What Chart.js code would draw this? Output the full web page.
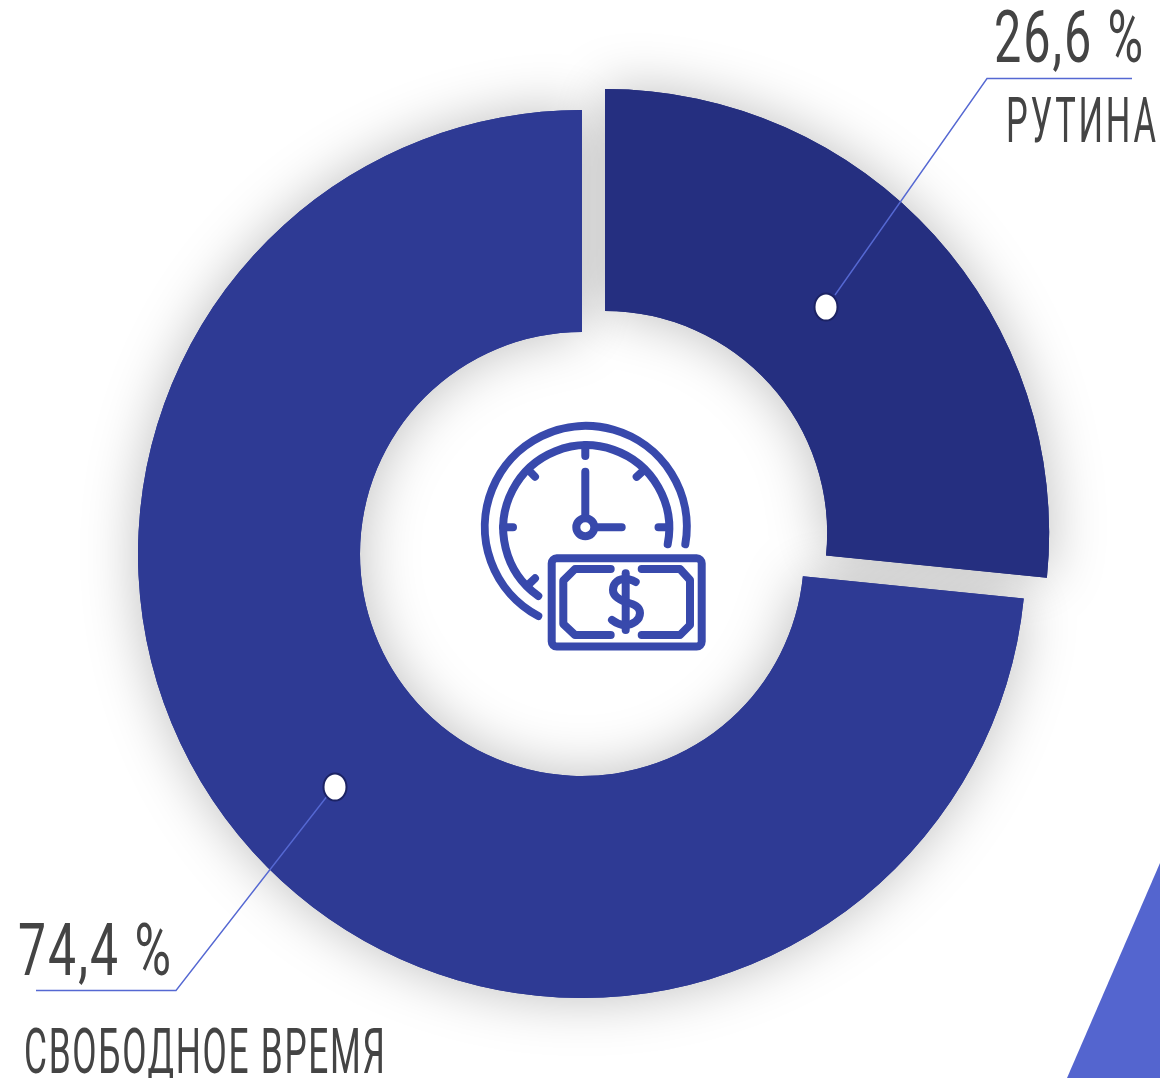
<!DOCTYPE html>
<html lang="ru">
<head>
    <meta charset="utf-8" />
    <title>Рутина и свободное время</title>
    <script src="https://cdn.jsdelivr.net/npm/chart.js"></script>
    <style>
        html, body { margin: 0; padding: 0; background: #fff; overflow: hidden; }
        #wrap { position: relative; width: 1160px; height: 1078px; }
        #donut { display: block; }
        #icon { position: absolute; left: 470px; top: 415px; width: 245px; height: 245px; }
    </style>
</head>
<body>
    <div id="wrap">
        <canvas id="donut" width="1160" height="1078"></canvas>
        <svg id="icon" viewBox="0 0 245 245" fill="none" stroke="#3849ac" stroke-width="8" stroke-linecap="round" stroke-linejoin="round">
            <path d="M215.3 129.3A101 101 0 1 0 68.3 201" />
            <path d="M197.7 129.3A83 83 0 1 0 68.3 181" />
            <path d="M115.3 30V41M33 112.3H43M188.5 112.3H199M166.7 61.7L173 56M65 61.7L58.5 55M65 163.3L58 170" />
            <path d="M115.3 56.7V100M128 112.3H151.7" />
            <circle cx="115.3" cy="112.3" r="9" />
            <rect x="81.7" y="143.3" width="150" height="88.3" rx="5" />
            <path d="M140.7 154H105L93.3 165.7V209L105 220H140.7" />
            <path d="M171.7 154H210L220 165V210L210 220H171.7" />
            <path d="M155.7 158.3V215" />
            <path d="M165.7 167C160 164 155 163.5 153 164C146 165 143 170 143 175C143 182 150 185 156 187C165 189.5 170 192 170 198C170 205 163 210 155 210C150 210 146 208 142 205" />
        </svg>
    </div>
    <script>
        const categories = ['РУТИНА', 'СВОБОДНОЕ ВРЕМЯ'];
        const percentLabels = ['26,6 %', '74,4 %'];
        // printed label says 74,4 but the drawn slice measures 73,4
        const sliceValues = [26.6, 73.4];
        const sliceColors = ['#252f80', '#2e3a94'];
        // Chart.js moves an arc by a quarter of its offset, so 124 is a 31px shift
        const sliceOffsets = [124, 0];

        // where the callouts sit on the page
        const callouts = [
            {
                dot: [826, 307], line: [[835, 295], [987, 78.5], [1132, 78.5]],
                pct: { x: 994, y: 62, w: 149, size: 73, gap: 3 },
                name: { x: 1006, y: 142, w: 150, size: 63, gap: 5 }
            },
            {
                dot: [335, 787], line: [[328, 795], [176, 990.5], [36, 990.5]],
                pct: { x: 18, y: 975, w: 153, size: 73, gap: 3 },
                name: { x: 24, y: 1073, w: 361, size: 63, gap: 3 }
            }
        ];

        function fitText(ctx, text, t) {
            ctx.save();
            ctx.font = '400 ' + t.size + 'px Roboto';
            ctx.letterSpacing = t.gap + 'px';
            ctx.fillStyle = '#444444';
            ctx.textBaseline = 'alphabetic';
            ctx.translate(t.x, t.y);
            ctx.scale(t.w / (ctx.measureText(text).width - t.gap), 1);
            ctx.fillText(text, 0, 0);
            ctx.restore();
        }

        // soft shadow under the ring, drawn first so it never darkens a slice
        const ringShadow = {
            id: 'ringShadow',
            beforeDatasetsDraw(chart) {
                const ctx = chart.ctx;
                ctx.save();
                ctx.fillStyle = '#5465cf';
                ctx.beginPath();
                ctx.moveTo(1160, 863);
                ctx.lineTo(1160, 1078);
                ctx.lineTo(1067, 1078);
                ctx.closePath();
                ctx.fill();
                ctx.shadowColor = 'rgba(0, 0, 0, 0.26)';
                ctx.shadowBlur = 56;
                chart.getDatasetMeta(0).data.forEach(arc => arc.draw(ctx));
                ctx.restore();
            }
        };

        const calloutLayer = {
            id: 'calloutLayer',
            afterDatasetsDraw(chart) {
                const ctx = chart.ctx;
                callouts.forEach((c, i) => {
                    ctx.save();
                    ctx.strokeStyle = '#5568d2';
                    ctx.lineWidth = 1.4;
                    ctx.beginPath();
                    c.line.forEach((p, j) => j ? ctx.lineTo(p[0], p[1]) : ctx.moveTo(p[0], p[1]));
                    ctx.stroke();
                    ctx.fillStyle = '#fff';
                    ctx.strokeStyle = '#1c2364';
                    ctx.lineWidth = 2;
                    ctx.beginPath();
                    ctx.ellipse(c.dot[0], c.dot[1], 11.5, 13.5, 0, 0, Math.PI * 2);
                    ctx.fill();
                    ctx.stroke();
                    ctx.restore();
                    fitText(ctx, percentLabels[i], c.pct);
                    fitText(ctx, categories[i], c.name);
                });
            }
        };

        new Chart(document.getElementById('donut').getContext('2d'), {
            type: 'doughnut',
            data: {
                labels: categories,
                datasets: [{
                    data: sliceValues,
                    backgroundColor: sliceColors,
                    offset: sliceOffsets,
                    borderWidth: 0
                }]
            },
            options: {
                responsive: false,
                animation: false,
                radius: 444,
                cutout: '50%',
                layout: { padding: { left: 4, top: 30, right: 0, bottom: 0 } },
                plugins: { legend: { display: false }, tooltip: { enabled: false } }
            },
            plugins: [ringShadow, calloutLayer]
        });
    </script>
</body>
</html>
